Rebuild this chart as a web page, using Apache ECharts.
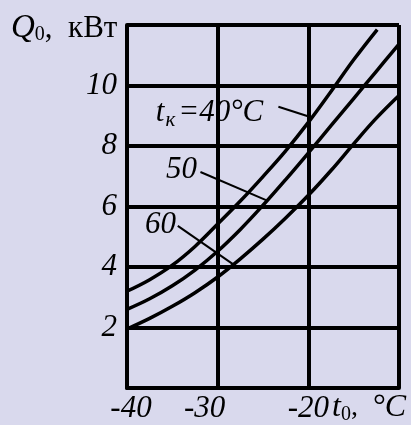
<!DOCTYPE html>
<html>
<head>
<meta charset="utf-8">
<script src="https://cdn.jsdelivr.net/npm/echarts/dist/echarts.min.js"></script>
<style>
  html, body { margin: 0; padding: 0; background: #d9d9ed; }
  #chart { width: 411px; height: 425px; }
</style>
</head>
<body>
<div id="chart"></div>
<script>
// Evaporator temperature t0, °C
const t0 = [-40, -37.5, -35, -32.5, -30, -27.5, -25, -22.5, -20, -17.5, -15, -12.5, -10];

// Refrigerating capacity Q0, kW, for condensing temperatures tк = 40, 50, 60 °C
const q40 = [3.2, 3.58, 4.06, 4.68, 5.42, 6.18, 6.99, 7.84, 8.78, 9.8, 10.85, 11.85];
const q50 = [2.6, 2.95, 3.38, 3.9, 4.52, 5.24, 6.04, 6.89, 7.77, 8.67, 9.57, 10.47, 11.37];
const q60 = [1.95, 2.3, 2.7, 3.15, 3.67, 4.27, 4.92, 5.62, 6.37, 7.19, 8.07, 8.92, 9.67];
// the 40 °C curve stops a little before the right edge
const t0End40 = -12.4;

const xTicks = [-40, -30, -20];
const yTicks = [2, 4, 6, 8, 10];

const FONT = '"Liberation Serif", "DejaVu Serif", serif';
const INK = '#000';
const FS = 31;

const d40 = q40.map((v, i) => [i === q40.length - 1 ? t0End40 : t0[i], v]);
const d50 = q50.map((v, i) => [t0[i], v]);
const d60 = q60.map((v, i) => [t0[i], v]);

const curveStyle = { color: INK, width: 3.5 };
const pointerStyle = { color: INK, width: 2, type: 'solid' };

function pointer(a, b) {
  return {
    silent: true,
    symbol: ['none', 'none'],
    label: { show: false },
    lineStyle: pointerStyle,
    data: [[{ coord: a }, { coord: b }]]
  };
}
function tag(coord, text, rich) {
  return {
    silent: true,
    symbol: 'circle',
    symbolSize: 0,
    data: [{
      coord: coord,
      label: {
        show: true, position: 'inside', formatter: text,
        fontFamily: FONT, fontStyle: 'italic', fontSize: FS, color: INK,
        rich: rich || {}
      }
    }]
  };
}
function curve(data, extra) {
  return Object.assign({
    type: 'line', data: data, smooth: 0.4,
    showSymbol: false, lineStyle: curveStyle
  }, extra);
}

const chart = echarts.init(document.getElementById('chart'));
chart.setOption({
  backgroundColor: '#d9d9ed',
  animation: false,
  grid: { left: 127, right: 12, top: 25, bottom: 37 },
  xAxis: {
    type: 'value', min: -40, max: -10, interval: 10,
    axisLine: { show: true, lineStyle: { color: INK, width: 4 } },
    axisTick: { show: false },
    splitLine: { show: true, lineStyle: { color: INK, width: 4 } },
    axisLabel: {
      margin: 5,
      formatter: v => xTicks.includes(v) ? (v === -30 ? '{l|' + v + '}' : (v === -40 ? '{r|' + v + '}' : '{c|' + v + '}')) : '',
      rich: {
        c: { fontFamily: FONT, fontStyle: 'italic', fontSize: FS, color: INK },
        l: { fontFamily: FONT, fontStyle: 'italic', fontSize: FS, color: INK, padding: [0, 26, 0, 0] },
        r: { fontFamily: FONT, fontStyle: 'italic', fontSize: FS, color: INK, padding: [0, 0, 0, 8] }
      }
    }
  },
  yAxis: {
    type: 'value', min: 0, max: 12, interval: 2,
    axisLine: { show: true, lineStyle: { color: INK, width: 4 } },
    axisTick: { show: false },
    splitLine: { show: true, lineStyle: { color: INK, width: 4 } },
    axisLabel: {
      margin: 10,
      formatter: v => yTicks.includes(v) ? String(v) : '',
      fontFamily: FONT, fontStyle: 'italic', fontSize: FS, color: INK
    }
  },
  series: [
    curve(d40, {
      markLine: pointer([-23.3, 9.3], [-19.7, 8.95]),
      markPoint: tag([-30.9, 9.1], '{i|t}{s|к}{i|=40°C}', {
        i: { fontFamily: FONT, fontStyle: 'italic', fontSize: FS, color: INK },
        s: { fontFamily: FONT, fontSize: 21, color: INK, padding: [15, 3, 0, 1] }
      })
    }),
    curve(d50, {
      markLine: pointer([-31.9, 7.14], [-24.6, 6.2]),
      markPoint: tag([-34.0, 7.2], '50')
    }),
    curve(d60, {
      markLine: pointer([-34.4, 5.36], [-28.2, 4.07]),
      markPoint: tag([-36.3, 5.4], '60')
    })
  ],
  graphic: [
    {
      type: 'text', left: 11, top: 12,
      style: {
        text: '{i|Q}{s|0}{n|,  кВт}',
        rich: {
          i: { fontFamily: FONT, fontStyle: 'italic', fontSize: 33, fill: INK },
          s: { fontFamily: FONT, fontSize: 20, fill: INK, padding: [13, 0, 0, 0] },
          n: { fontFamily: FONT, fontSize: 31, fill: INK }
        }
      }
    },
    {
      type: 'text', left: 332, top: 392,
      style: {
        text: '{i|t}{s|0}{n|,  }{i|°C}',
        rich: {
          i: { fontFamily: FONT, fontStyle: 'italic', fontSize: 32, fill: INK },
          s: { fontFamily: FONT, fontSize: 20, fill: INK, padding: [14, 0, 0, 0] },
          n: { fontFamily: FONT, fontSize: 28, fill: INK }
        }
      }
    }
  ]
});
</script>
</body>
</html>
